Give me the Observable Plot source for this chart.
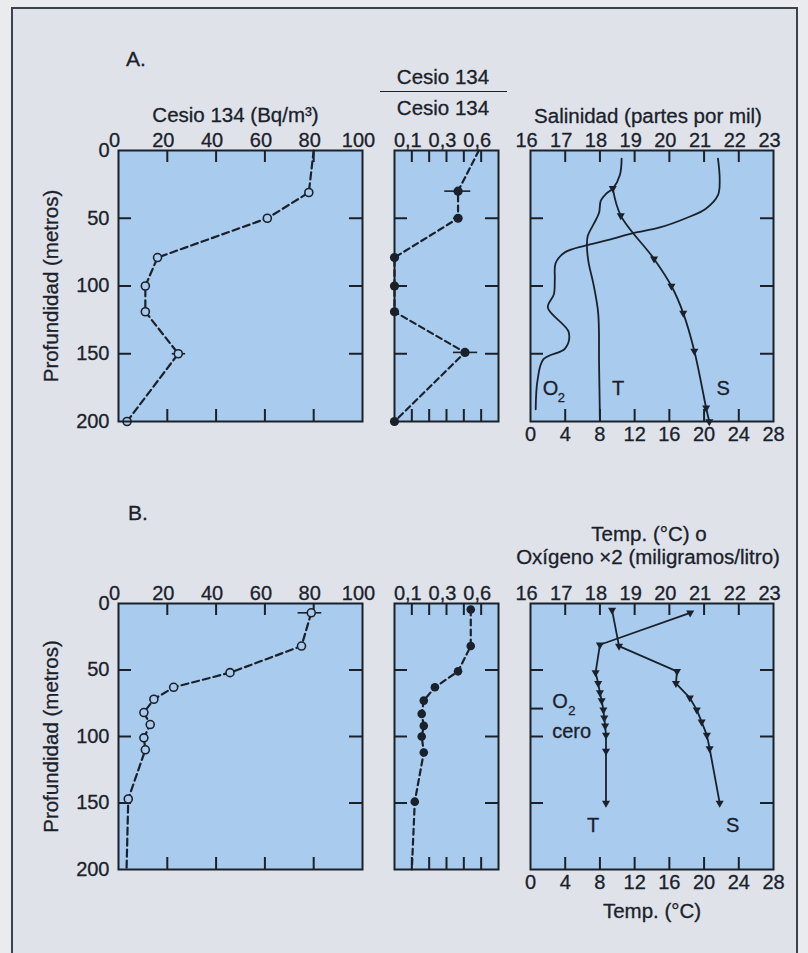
<!DOCTYPE html>
<html><head><meta charset="utf-8">
<script src="https://cdn.jsdelivr.net/npm/d3@7"></script>
<script src="https://cdn.jsdelivr.net/npm/@observablehq/plot@0.6"></script>
<style>
html,body{margin:0;padding:0;background:#e9ebee;}
#page{position:relative;width:808px;height:953px;overflow:hidden;font-family:"Liberation Sans",Arial,Helvetica,sans-serif;color:#1a212b;}
#frame{position:absolute;left:11px;top:7px;width:787px;height:980px;border:2px solid #3b424b;background:#dfe3e9;box-sizing:border-box;}
.lbl{position:absolute;white-space:nowrap;transform:translate(-50%,-50%);font-size:20px;line-height:1;-webkit-text-stroke:0.3px #1a212b;}
.bar{position:absolute;border-top:1.6px solid #1a212b;height:0;}
</style></head>
<body><div id="page"><div id="frame"></div></div>
<script>
// ---------- data ----------
const depthTicks = [0, 50, 100, 150, 200];
const depthInner = [50, 100, 150];
const cesioTicks = [0, 20, 40, 60, 80, 100];
const cesioInner = [20, 40, 60, 80];
const ratioStops = [0, 0.1, 0.3, 0.6, 0.75];      // piecewise axis stops
const ratioStopSteps = [0, 1, 3, 5, 6];            // tick-step index of each stop
const ratioLabels = [0.1, 0.3, 0.6];
const ratioInner = [0.1, 0.2, 0.3, 0.45, 0.6];
const salTicks = [16, 17, 18, 19, 20, 21, 22, 23];
const salInner = [17, 18, 19, 20, 21, 22];
const tempTicks = [0, 4, 8, 12, 16, 20, 24, 28];
const tempInner = [4, 8, 12, 16, 20, 24];

// Panel A — Cesio 134 (Bq/m3)
const cesA_depth = [0, 31, 50, 79, 100, 119, 150, 200];
const cesA_val   = [80, 78, 61, 16, 11, 11, 24.5, 3.5];
const cesA_errDepth = [150];
const cesA_errLo = [22];
const cesA_errHi = [27.5];
// Panel A — ratio Cesio 134 / Cesio 134
const ratA_depth = [0, 30, 50, 79, 100, 119, 149, 200];
const ratA_val   = [0.58, 0.40, 0.40, 0, 0, 0, 0.46, 0];
const ratA_errDepth = [30, 50, 149];
const ratA_errLo = [0.29, 0.36, 0.36];
const ratA_errHi = [0.51, 0.44, 0.57];
// Panel A — T (°C), O2 x2 (mg/l), S (ppt)
const tA_depth = [6, 18, 28, 32, 37, 46, 54, 63, 70, 83, 97, 120, 157, 199];
const tA_val   = [10.5, 10.3, 9.5, 8.7, 8.1, 7.9, 7.3, 6.6, 6.5, 6.7, 7.2, 7.8, 7.9, 8.0];
const oA_depth = [6, 21, 33, 43, 50, 57, 61, 66, 70, 75, 83, 95, 106, 116, 134, 146, 154, 170, 191];
const oA_val   = [21.6, 21.8, 21.6, 20.2, 17.9, 14.8, 11.8, 9.0, 6.4, 4.0, 2.9, 2.8, 2.7, 2.0, 4.4, 4.0, 1.5, 0.8, 0.6];
const sA_depth = [28, 48, 80, 100, 120, 148, 190, 200];
const sA_val   = [18.37, 18.6, 19.56, 20.06, 20.4, 20.72, 21.06, 21.15];

// Panel B
const cesB_depth = [7, 32, 52, 63, 72, 82, 91, 101, 110, 147, 200];
const cesB_val   = [79, 75, 45.7, 22.6, 14.5, 10.4, 13, 10.4, 11, 4, 3.3];
const cesB_errDepth = [7];
const cesB_errLo = [73.6];
const cesB_errHi = [83.3];
const ratB_depth = [4.5, 32, 51, 63, 73, 83, 92, 100, 112, 149, 200];
const ratB_val   = [0.51, 0.51, 0.40, 0.233, 0.169, 0.157, 0.169, 0.157, 0.169, 0.117, 0.10];
const tB_depth = [7, 31, 52, 60, 67, 73, 80, 86, 92, 99, 111, 150];
const tB_val   = [18.4, 8.0, 7.5, 7.8, 8.0, 8.2, 8.4, 8.5, 8.6, 8.7, 8.7, 8.7];
const sB_depth = [5, 32, 51, 60, 71, 80, 89, 99, 109, 150];
const sB_val   = [18.35, 18.55, 20.22, 20.19, 20.59, 20.79, 20.93, 21.08, 21.16, 21.45];
const o2ZeroDepthB = [79];

// Annotations (data coordinates)
const annA_text = ["T", "S"], annA_x = [10.1, 22.2], annA_depth = [176, 176];
const o2A_x = [1.4], o2A_depth = [176];
const annB_text = ["T", "S"], annB_x = [7.2, 23.3], annB_depth = [167, 167];
const o2B_x = [2.5], o2B_depth = [74];
const ceroB_text = ["cero"], ceroB_x = [2.5], ceroB_depth = [96];

// ---------- style ----------
const INK = "#1a212b", BLUE = "#a9cbee";
const FONT = "'Liberation Sans', Arial, Helvetica, sans-serif";
const page = document.getElementById("page");
const rows = {A: {top: 150, h: 271}, B: {top: 603, h: 266}};
const cols = {
  left:  {x: 118, w: 244, ml: 100, mr: 17, mt: 60, mb: 20},
  mid:   {x: 394, w: 104, ml: 15, mr: 15, mt: 60, mb: 20},
  right: {x: 530, w: 243, ml: 17, mr: 25, mt: 100, mb: 60}
};

const zip = (ds, vs) => ds.map((d, i) => ({d, v: vs[i]}));
const txt = (data, o) => Plot.text(data, {fontSize: 20, fill: INK, stroke: INK, strokeWidth: 0.3, ...o});
const comma = d => String(d).replace(".", ",");

function frameTicks(w, h, xTop, xBot, yVals, xf = d => d, len = 12) {
  return [
    Plot.tickX(xTop, {x: xf, insetBottom: h - len, stroke: INK, strokeWidth: 2}),
    Plot.tickX(xBot, {x: xf, insetTop: h - len, stroke: INK, strokeWidth: 2}),
    Plot.tickY(yVals, {y: d => d, insetRight: w - 13, stroke: INK, strokeWidth: 2}),
    Plot.tickY(yVals, {y: d => d, insetLeft: w - 13, stroke: INK, strokeWidth: 2})
  ];
}

function addPanel(col, row, x, marks) {
  const {ml, mr, mt, mb, w} = col, h = row.h;
  const svg = Plot.plot({
    width: ml + w + mr, height: mt + h + mb,
    marginLeft: ml, marginRight: mr, marginTop: mt, marginBottom: mb,
    x: {...x, axis: null},
    y: {domain: [0, 200], reverse: true, axis: null},
    style: {background: "transparent", overflow: "visible", fontFamily: FONT, color: INK},
    marks: [
      Plot.frame({fill: BLUE, stroke: "none"}),
      ...marks(w, h, ml),
      Plot.frame({stroke: INK, strokeWidth: 2, fill: "none"})
    ]
  });
  svg.style.position = "absolute";
  svg.style.left = (col.x - ml) + "px";
  svg.style.top = (row.top - mt) + "px";
  page.appendChild(svg);
}

function label(text, cx, cy, size) {
  const el = document.createElement("div");
  el.className = "lbl";
  el.textContent = text;
  el.style.left = cx + "px"; el.style.top = cy + "px";
  if (size) el.style.fontSize = size + "px";
  page.appendChild(el);
}

// ---------- left panels (Cesio 134 Bq/m3) ----------
function cesioPanel(row, depth, vals, errD, errLo, errHi, dotFrom, title) {
  const line = zip(depth, vals);
  const err = errD.map((d, i) => ({d, lo: errLo[i], hi: errHi[i]}));
  addPanel(cols.left, row, {domain: [0, 100]}, (w, h) => [
    ...frameTicks(w, h, cesioInner, cesioInner, depthInner),
    Plot.line(line, {x: "v", y: "d", stroke: INK, strokeWidth: 2.2, strokeDasharray: "7,4"}),
    Plot.ruleY(err, {y: "d", x1: "lo", x2: "hi", stroke: INK, strokeWidth: 1.6}),
    Plot.dot(line.slice(dotFrom, vals.length - (dotFrom === 0 ? 1 : 0)), {x: "v", y: "d", r: 4, stroke: INK, strokeWidth: 1.6, fill: BLUE}),
    txt(cesioTicks, {x: d => d, text: d => String(d), frameAnchor: "top", dy: -18, dx: -4}),
    txt(depthTicks, {y: d => d, text: d => String(d), frameAnchor: "left", dx: -9, textAnchor: "end"}),
    txt(["Profundidad (metros)"], {frameAnchor: "left", dx: -67, rotate: -90, textAnchor: "middle", fontSize: 20.5}),
    ...(title ? [txt([title], {frameAnchor: "top", dy: -43, dx: -5, fontSize: 20.5})] : [])
  ]);
}
cesioPanel(rows.A, cesA_depth, cesA_val, cesA_errDepth, cesA_errLo, cesA_errHi, 1, "Cesio 134 (Bq/m³)");
cesioPanel(rows.B, cesB_depth, cesB_val, cesB_errDepth, cesB_errLo, cesB_errHi, 0, null);

// ---------- middle panels (ratio) ----------
function ratioPanel(row, depth, vals, errD, errLo, errHi, dotFrom, dotTo, r) {
  const line = zip(depth, vals);
  const err = errD.map((d, i) => ({d, lo: errLo[i], hi: errHi[i]}));
  const col = cols.mid;
  addPanel(col, row, {type: "linear", domain: ratioStops, range: ratioStopSteps.map(s => col.ml + s * col.w / 6)}, (w, h) => [
    ...frameTicks(w, h, ratioInner, ratioInner, depthInner),
    Plot.line(line, {x: "v", y: "d", stroke: INK, strokeWidth: 2.2, strokeDasharray: "6,4"}),
    Plot.ruleY(err, {y: "d", x1: "lo", x2: "hi", stroke: INK, strokeWidth: 1.6}),
    Plot.dot(line.slice(dotFrom, dotTo), {x: "v", y: "d", r, fill: INK}),
    txt(ratioLabels, {x: d => d, text: comma, frameAnchor: "top", dy: -18, dx: -4})
  ]);
}
ratioPanel(rows.A, ratA_depth, ratA_val, ratA_errDepth, ratA_errLo, ratA_errHi, 1, ratA_depth.length, 4.6);
ratioPanel(rows.B, ratB_depth, ratB_val, [], [], [], 0, ratB_depth.length - 1, 4.3);

// ---------- right panels (T, O2, S) ----------
const salX = d => (d.v - 16) * 4;   // salinity axis (16–23) shares the 0–28 frame
const tri = {symbol: "triangle", r: 3, fill: INK, rotate: 180};

addPanel(cols.right, rows.A, {domain: [0, 28]}, (w, h) => {
  const t = zip(tA_depth, tA_val), o = zip(oA_depth, oA_val), s = zip(sA_depth, sA_val);
  return [
    ...frameTicks(w, h, salInner.map(v => (v - 16) * 4), tempInner, depthInner),
    Plot.line(o, {x: "v", y: "d", curve: "catmull-rom", stroke: INK, strokeWidth: 1.8}),
    Plot.line(t, {x: "v", y: "d", curve: "catmull-rom", stroke: INK, strokeWidth: 1.8}),
    Plot.line(s, {x: salX, y: "d", curve: "catmull-rom", stroke: INK, strokeWidth: 1.8}),
    Plot.dot(s, {x: salX, y: "d", ...tri}),
    txt(salTicks, {x: v => (v - 16) * 4, text: d => String(d), frameAnchor: "top", dy: -18, dx: -4}),
    txt(tempTicks, {x: d => d, text: d => String(d), frameAnchor: "bottom", dy: 19}),
    txt(["Salinidad (partes por mil)"], {frameAnchor: "top", dy: -42, dx: -4, fontSize: 20.5}),
    txt(annA_text, {x: (d, i) => annA_x[i], y: (d, i) => annA_depth[i], text: d => d}),
    txt(["O"], {x: o2A_x, y: o2A_depth, textAnchor: "start"}),
    txt(["2"], {x: o2A_x, y: o2A_depth, textAnchor: "start", dx: 15, dy: 9, fontSize: 13})
  ];
});

addPanel(cols.right, rows.B, {domain: [0, 28]}, (w, h) => {
  const t = zip(tB_depth, tB_val), s = zip(sB_depth, sB_val);
  return [
    ...frameTicks(w, h, salInner.map(v => (v - 16) * 4), tempInner, depthInner),
    Plot.tickY(o2ZeroDepthB, {y: d => d, insetRight: w - 13, stroke: INK, strokeWidth: 2}),
    Plot.line(t, {x: "v", y: "d", stroke: INK, strokeWidth: 1.8}),
    Plot.line(s, {x: salX, y: "d", stroke: INK, strokeWidth: 1.8}),
    Plot.dot(t, {x: "v", y: "d", ...tri}),
    Plot.dot(s, {x: salX, y: "d", ...tri}),
    txt(salTicks, {x: v => (v - 16) * 4, text: d => String(d), frameAnchor: "top", dy: -18, dx: -4}),
    txt(tempTicks, {x: d => d, text: d => String(d), frameAnchor: "bottom", dy: 19}),
    txt(["Temp. (°C) o"], {frameAnchor: "top", dy: -77, dx: -3, fontSize: 20.5}),
    txt(["Oxígeno \u00D72 (miligramos/litro)"], {frameAnchor: "top", dy: -54, dx: -4, fontSize: 20.5}),
    txt(["Temp. (°C)"], {frameAnchor: "bottom", dy: 48, fontSize: 20.5}),
    txt(annB_text, {x: (d, i) => annB_x[i], y: (d, i) => annB_depth[i], text: d => d}),
    txt(["O"], {x: o2B_x, y: o2B_depth, textAnchor: "start"}),
    txt(["2"], {x: o2B_x, y: o2B_depth, textAnchor: "start", dx: 16, dy: 9, fontSize: 13}),
    txt(ceroB_text, {x: ceroB_x, y: ceroB_depth, text: d => d, textAnchor: "start"})
  ];
});

// ---------- headings ----------
label("A.", 136, 58, 21);
label("B.", 138, 512, 21);
label("Cesio 134", 443, 77, 20.5);
label("Cesio 134", 443, 108, 20.5);
const bar = document.createElement("div");
bar.className = "bar";
bar.style.left = "380px"; bar.style.top = "91px"; bar.style.width = "127px";
page.appendChild(bar);
</script>
</body></html>
